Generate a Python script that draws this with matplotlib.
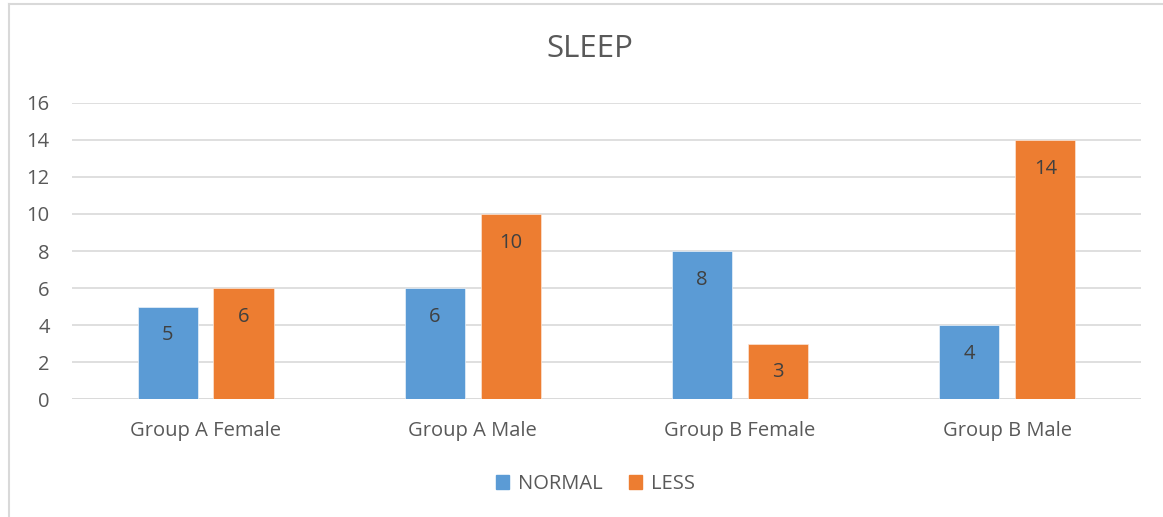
import matplotlib
matplotlib.use('Agg')
import matplotlib.pyplot as plt
import matplotlib.patches as mpatches
import numpy as np

# %% Data
groups = ['Group A Female', 'Group A Male', 'Group B Female', 'Group B Male']
normal = [5, 6, 8, 4]
less = [6, 10, 3, 14]
y_ticks = [0, 2, 4, 6, 8, 10, 12, 14, 16]

blue = '#5B9BD5'
orange = '#ED7D31'
text_col = '#595959'

plt.rcParams['font.family'] = ['Open Sans', 'DejaVu Sans']

# %% Figure
fig = plt.figure(figsize=(11.63, 5.17), dpi=100)
ax = fig.add_axes([0.0619, 0.2282, 0.9191, 0.5726])

x = np.arange(len(groups))
w = 0.225
off = 0.142
b1 = ax.bar(x - off, normal, w, color=blue, edgecolor='#EAF2FA', linewidth=0.5, zorder=3)
b2 = ax.bar(x + off, less, w, color=orange, edgecolor='#FBE5D6', linewidth=0.5, zorder=3)

for bars, vals in [(b1, normal), (b2, less)]:
    for b, v in zip(bars, vals):
        ax.text(b.get_x() + b.get_width() / 2, v - 1.55, str(v), ha='center', va='center',
                fontsize=14.5, color='#404040', zorder=4)

ax.set_xlim(-0.5, len(groups) - 0.5)
ax.set_ylim(0, 16)
ax.set_yticks(y_ticks)
ax.set_xticks(x)
ax.set_xticklabels(groups)
ax.yaxis.grid(True, color='#D9D9D9', linewidth=1.2, zorder=0)
ax.tick_params(axis='both', length=0, labelsize=14.5, labelcolor=text_col)
ax.tick_params(axis='x', pad=16)
ax.tick_params(axis='y', pad=16)
for s in ax.spines.values():
    s.set_visible(False)
ax.axhline(0, color='#D9D9D9', linewidth=1.2, zorder=2)

fig.text(0.507, 0.905, 'SLEEP', ha='center', va='center', fontsize=22.5, color=text_col)

handles = [mpatches.Patch(color=blue, label='NORMAL'), mpatches.Patch(color=orange, label='LESS')]
fig.legend(handles=handles, loc='center', bbox_to_anchor=(0.512, 0.064), ncol=2, frameon=False,
           fontsize=14.5, labelcolor=text_col, handlelength=0.65, handleheight=0.65,
           handletextpad=0.45, columnspacing=1.3)

# chart border (left and top edges visible)
fig.add_artist(plt.Line2D([0.0075, 0.0075], [0, 0.992], color='#D9D9D9', linewidth=1.5))
fig.add_artist(plt.Line2D([0.0075, 1.0], [0.992, 0.992], color='#D9D9D9', linewidth=1.5))

fig.savefig('out.png', dpi=100)
